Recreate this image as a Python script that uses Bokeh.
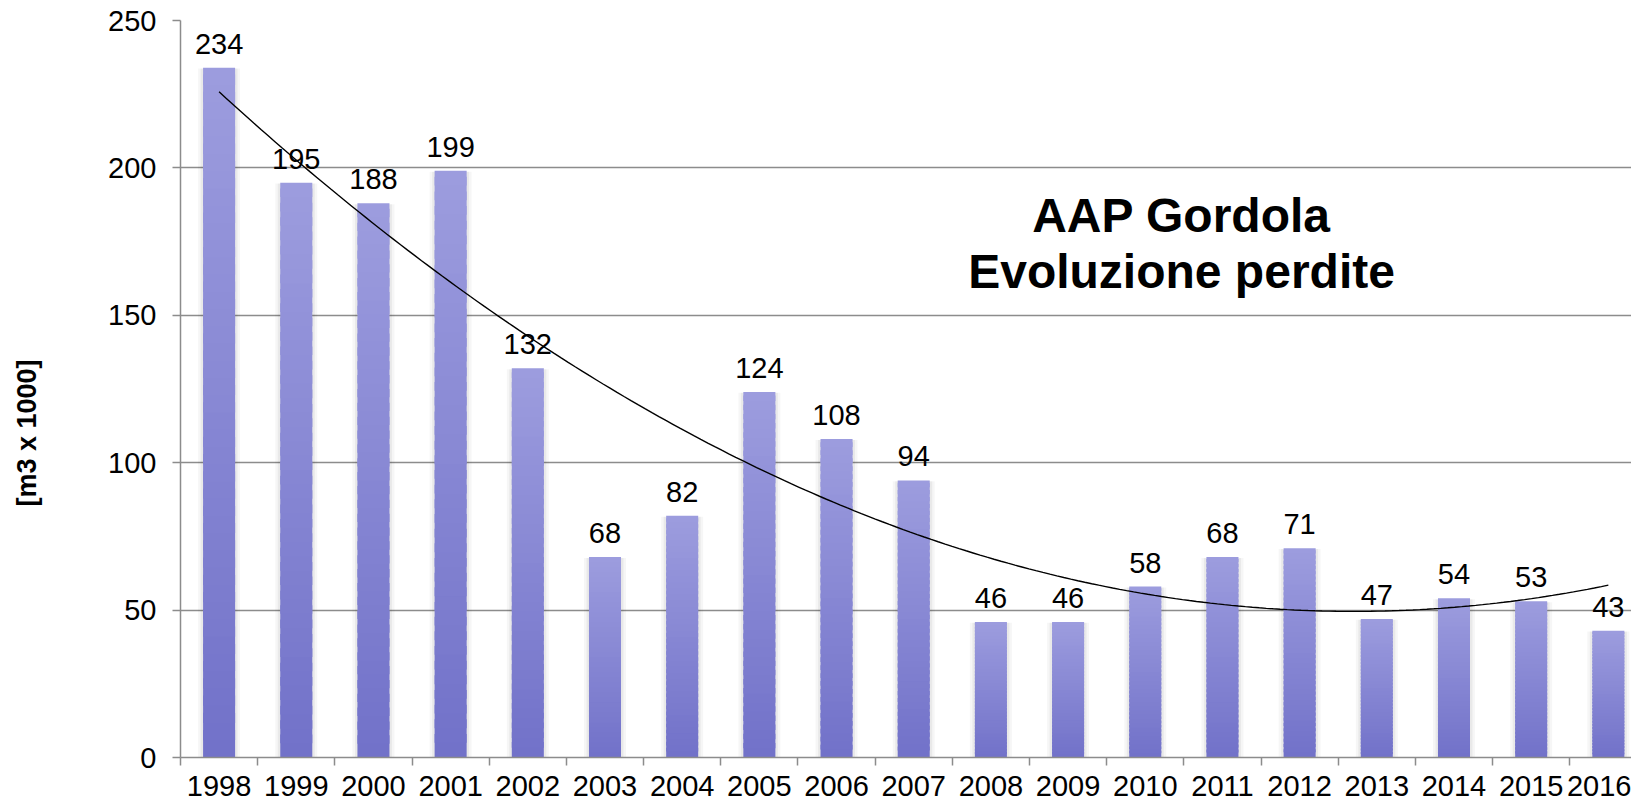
import numpy as np
from bokeh.plotting import figure
from bokeh.models import (ColumnDataSource, Range1d, FixedTicker, LabelSet, Label,
                          Title, LinearAxis)
from bokeh.core.properties import value
from bokeh.embed import file_html
from bokeh.resources import INLINE

# ---------------- data ----------------
years = [1998, 1999, 2000, 2001, 2002, 2003, 2004, 2005, 2006, 2007,
         2008, 2009, 2010, 2011, 2012, 2013, 2014, 2015, 2016]
losses = [234, 195, 188, 199, 132, 68, 82, 124, 108, 94,
          46, 46, 58, 68, 71, 47, 54, 53, 43]
y_ticks = [0, 50, 100, 150, 200, 250]
y_label = "[m3 x 1000]"
title_lines = ["AAP Gordola", "Evoluzione perdite"]

FONT = "Liberation Sans"
GRID = "#8c8c8c"
FS = "29px"

p = figure(width=1631, height=808, output_backend="svg", toolbar_location=None,
           x_range=Range1d(1997.5, 2016.3), y_range=Range1d(0, 250),
           min_border_left=180, min_border_right=0, min_border_top=20,
           min_border_bottom=51)
p.outline_line_color = None
p.background_fill_color = "white"

bw = 0.415

# soft shadows
p.vbar(x=years, top=[v - 0.3 for v in losses], width=bw + 10 / 77.17,
       fill_color="black", fill_alpha=0.035, line_color=None)
p.vbar(x=years, top=[v - 0.3 for v in losses], width=bw + 5 / 77.17,
       fill_color="black", fill_alpha=0.05, line_color=None)

# gradient bars built from stacked slices
N = 40
top_rgb = np.array([0x9C, 0x9C, 0xDE])
bot_rgb = np.array([0x72, 0x72, 0xC9])
xs, bots, tops, cols = [], [], [], []
for yr, v in zip(years, losses):
    for k in range(N):
        t = k / (N - 1)
        c = bot_rgb + (top_rgb - bot_rgb) * t
        xs.append(yr)
        bots.append(v * k / N)
        tops.append(min(v, v * (k + 1.6) / N))
        cols.append("#%02x%02x%02x" % tuple(int(round(a)) for a in c))
bar_src = ColumnDataSource(dict(x=xs, bottom=bots, top=tops, color=cols))
p.vbar(x="x", bottom="bottom", top="top", width=bw, fill_color="color",
       line_color=None, source=bar_src)

# polynomial (order 2) trendline fitted to the data
coef = np.polyfit(np.array(years) - years[0], losses, 2)
xt = np.linspace(years[0], years[-1], 200)
yt = np.polyval(coef, xt - years[0])
p.line(xt, yt, line_color="black", line_width=1.4)

# value labels
lab_src = ColumnDataSource(dict(x=years, y=losses, t=[str(v) for v in losses]))
p.add_layout(LabelSet(x="x", y="y", text="t", source=lab_src, y_offset=14,
                      text_align="center", text_baseline="alphabetic",
                      text_font=value(FONT), text_font_size=value(FS),
                      text_color="black"))

# title
p.add_layout(Label(x=2010.47, y=183.9, text=title_lines[0], text_align="center",
                   text_baseline="middle", text_font=FONT, text_font_size="48px",
                   text_font_style="bold", text_color="black"))
p.add_layout(Label(x=2010.47, y=164.8, text=title_lines[1], text_align="center",
                   text_baseline="middle", text_font=FONT, text_font_size="48px",
                   text_font_style="bold", text_color="black"))

# invisible spacer axis to push the y title further left
spacer = LinearAxis(ticker=FixedTicker(ticks=[125]), major_tick_out=59, major_tick_in=0,
                    major_label_overrides={125: ""}, major_label_standoff=0,
                    axis_line_color=None, major_tick_line_color=None,
                    minor_tick_line_color=None)
p.add_layout(spacer, "left")

# y-axis title, lower than the frame centre as in the original
ytitle = Title(text=y_label, align="left", offset=251, standoff=10,
               text_font=FONT, text_font_size="27px", text_font_style="bold",
               text_color="black")
p.add_layout(ytitle, "left")

# axes
p.xgrid.grid_line_color = None
p.ygrid.grid_line_color = GRID
p.ygrid.grid_line_width = 1.5

yax = p.yaxis[0]
yax.ticker = FixedTicker(ticks=y_ticks)
yax.axis_line_color = GRID
yax.axis_line_width = 1.5
yax.major_tick_line_color = GRID
yax.major_tick_line_width = 1.5
yax.major_tick_out = 8
yax.major_tick_in = 0
yax.minor_tick_line_color = None
yax.major_label_standoff = 16
yax.major_label_text_font = FONT
yax.major_label_text_font_size = FS
yax.major_label_text_color = "black"

xax = p.xaxis[0]
xax.ticker = FixedTicker(ticks=years, minor_ticks=[y - 0.5 for y in years] + [years[-1] + 0.5])
xax.major_label_overrides = {y: str(y) for y in years}
xax.axis_line_color = GRID
xax.axis_line_width = 1.5
xax.major_tick_line_color = None
xax.minor_tick_line_color = GRID
xax.minor_tick_line_width = 1.5
xax.minor_tick_out = 8
xax.minor_tick_in = 0
xax.major_tick_out = 8
xax.major_tick_in = 0
xax.major_label_standoff = 10
xax.major_label_text_font = FONT
xax.major_label_text_font_size = FS
xax.major_label_text_color = "black"

open("out.html", "w").write(file_html(p, INLINE))
